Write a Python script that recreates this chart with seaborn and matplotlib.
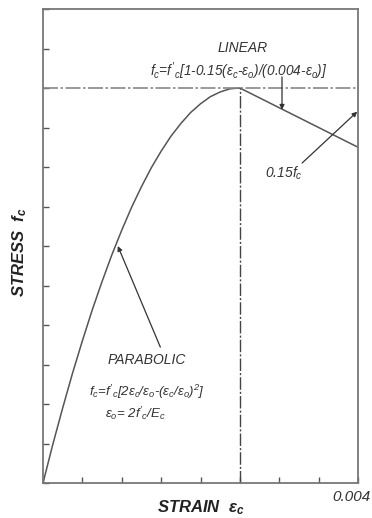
import matplotlib
matplotlib.use("Agg")
import matplotlib.pyplot as plt
import seaborn as sns
import pandas as pd
import numpy as np

# ---- data ----
strain_parabolic = [0, 0.000125, 0.00025, 0.000375, 0.0005, 0.000625, 0.00075, 0.000875,
                    0.001, 0.001125, 0.00125, 0.001375, 0.0015, 0.001625, 0.00175,
                    0.001875, 0.002, 0.002125, 0.00225, 0.002375, 0.0025]
stress_parabolic = [0, 0.098, 0.19, 0.278, 0.36, 0.438, 0.51, 0.578,
                    0.64, 0.698, 0.75, 0.798, 0.84, 0.878, 0.91,
                    0.938, 0.96, 0.978, 0.99, 0.998, 1.0]
strain_linear = [0.0025, 0.004]
stress_linear = [1.0, 0.85]
eps0 = 0.0025
peak_stress = 1.0
x_ticks = [0, 0.0005, 0.001, 0.0015, 0.002, 0.0025, 0.003, 0.0035, 0.004]
y_ticks = [0, 0.1, 0.2, 0.3, 0.4, 0.5, 0.6, 0.7, 0.8, 0.9, 1.0, 1.1, 1.2]

sns.set_style("white")
plt.rcParams["font.family"] = ["Liberation Sans", "DejaVu Sans"]
plt.rcParams["mathtext.fontset"] = "custom"
plt.rcParams["mathtext.rm"] = "Liberation Sans:italic"
plt.rcParams["mathtext.it"] = "Liberation Sans:italic"
plt.rcParams["mathtext.bf"] = "Liberation Sans:italic:bold"

df = pd.DataFrame({
    "strain": strain_parabolic + strain_linear[1:],
    "stress": stress_parabolic + stress_linear[1:],
})

fig = plt.figure(figsize=(3.72, 5.18), dpi=100)
ax = fig.add_axes([43/372, 1-483/518, (358-43)/372, (483-9)/518])

line_col = "#555555"
sns.lineplot(data=df, x="strain", y="stress", ax=ax, color=line_col, lw=1.1,
             sort=False, estimator=None)

# dash-dot reference lines
ax.plot([x_ticks[0], x_ticks[-1]], [peak_stress, peak_stress], color="#888888", lw=1.2,
        linestyle=(0, (9, 1.5, 1.5, 1.5)))
ax.plot([eps0, eps0], [0, peak_stress], color="#444444", lw=1.0,
        linestyle=(0, (9, 1.5, 1.5, 1.5)))

ax.set_xlim(0, 0.004)
ax.set_ylim(0, 1.2)
ax.set_xticks(x_ticks)
ax.set_yticks(y_ticks)
ax.set_xticklabels([])
ax.set_yticklabels([])
ax.tick_params(direction="in", length=4, width=1, color="#555555",
               bottom=True, left=True, top=False, right=False)
for s in ax.spines.values():
    s.set_color("#777777")
    s.set_linewidth(1.3)
ax.set_xlabel("")
ax.set_ylabel("")

txt_col = "#333333"
fig.text(201/372, 1-508/518, r"STRAIN  $\mathbf{\varepsilon_c}$", ha="center", va="center",
         fontsize=12, fontweight="bold", style="italic", color="#222222")
fig.text(20/372, 1-252/518, r"STRESS  $\mathbf{f_c}$", ha="center", va="center",
         rotation=90, fontsize=12, fontweight="bold", style="italic", color="#222222")
ax.annotate("0.004", xy=(0.004, 0), xycoords="data", xytext=(-7, -14),
            textcoords="offset pixels", ha="center", va="center",
            fontsize=11, style="italic", color=txt_col)

ax.text(0.00254, 1.101, "LINEAR", ha="center", va="center", fontsize=10,
        style="italic", color=txt_col)
ax.text(0.00249, 1.043,
        r"$f_c$=$f'_c$[1-0.15($\varepsilon_c$-$\varepsilon_o$)/(0.004-$\varepsilon_o$)]",
        ha="center", va="center", fontsize=9.8, style="italic", color=txt_col)
ax.text(0.00132, 0.311, "PARABOLIC", ha="center", va="center", fontsize=10,
        style="italic", color=txt_col)
ax.text(0.00132, 0.230,
        r"$f_c$=$f'_c$[2$\varepsilon_c$/$\varepsilon_o$-($\varepsilon_c$/$\varepsilon_o$)$^2$]",
        ha="center", va="center", fontsize=9.5, style="italic", color=txt_col)
ax.text(0.00079, 0.177, r"$\varepsilon_o$= 2$f'_c$/$E_c$",
        ha="left", va="center", fontsize=9.5, style="italic", color=txt_col)
ax.text(0.00306, 0.785, r"0.15$f_c$", ha="center", va="center", fontsize=10,
        style="italic", color=txt_col)

arrow = dict(arrowstyle="-|>", mutation_scale=7, lw=0.9, color="#333333",
             shrinkA=0, shrinkB=0)
ax.annotate("", xy=(0.003035, 0.945), xytext=(0.003035, 1.028), arrowprops=arrow)
ax.annotate("", xy=(0.00399, 0.94), xytext=(0.00329, 0.81), arrowprops=arrow)
ax.annotate("", xy=(0.00095, 0.60), xytext=(0.00149, 0.344), arrowprops=arrow)

fig.savefig("out.png", dpi=100, facecolor="white")
